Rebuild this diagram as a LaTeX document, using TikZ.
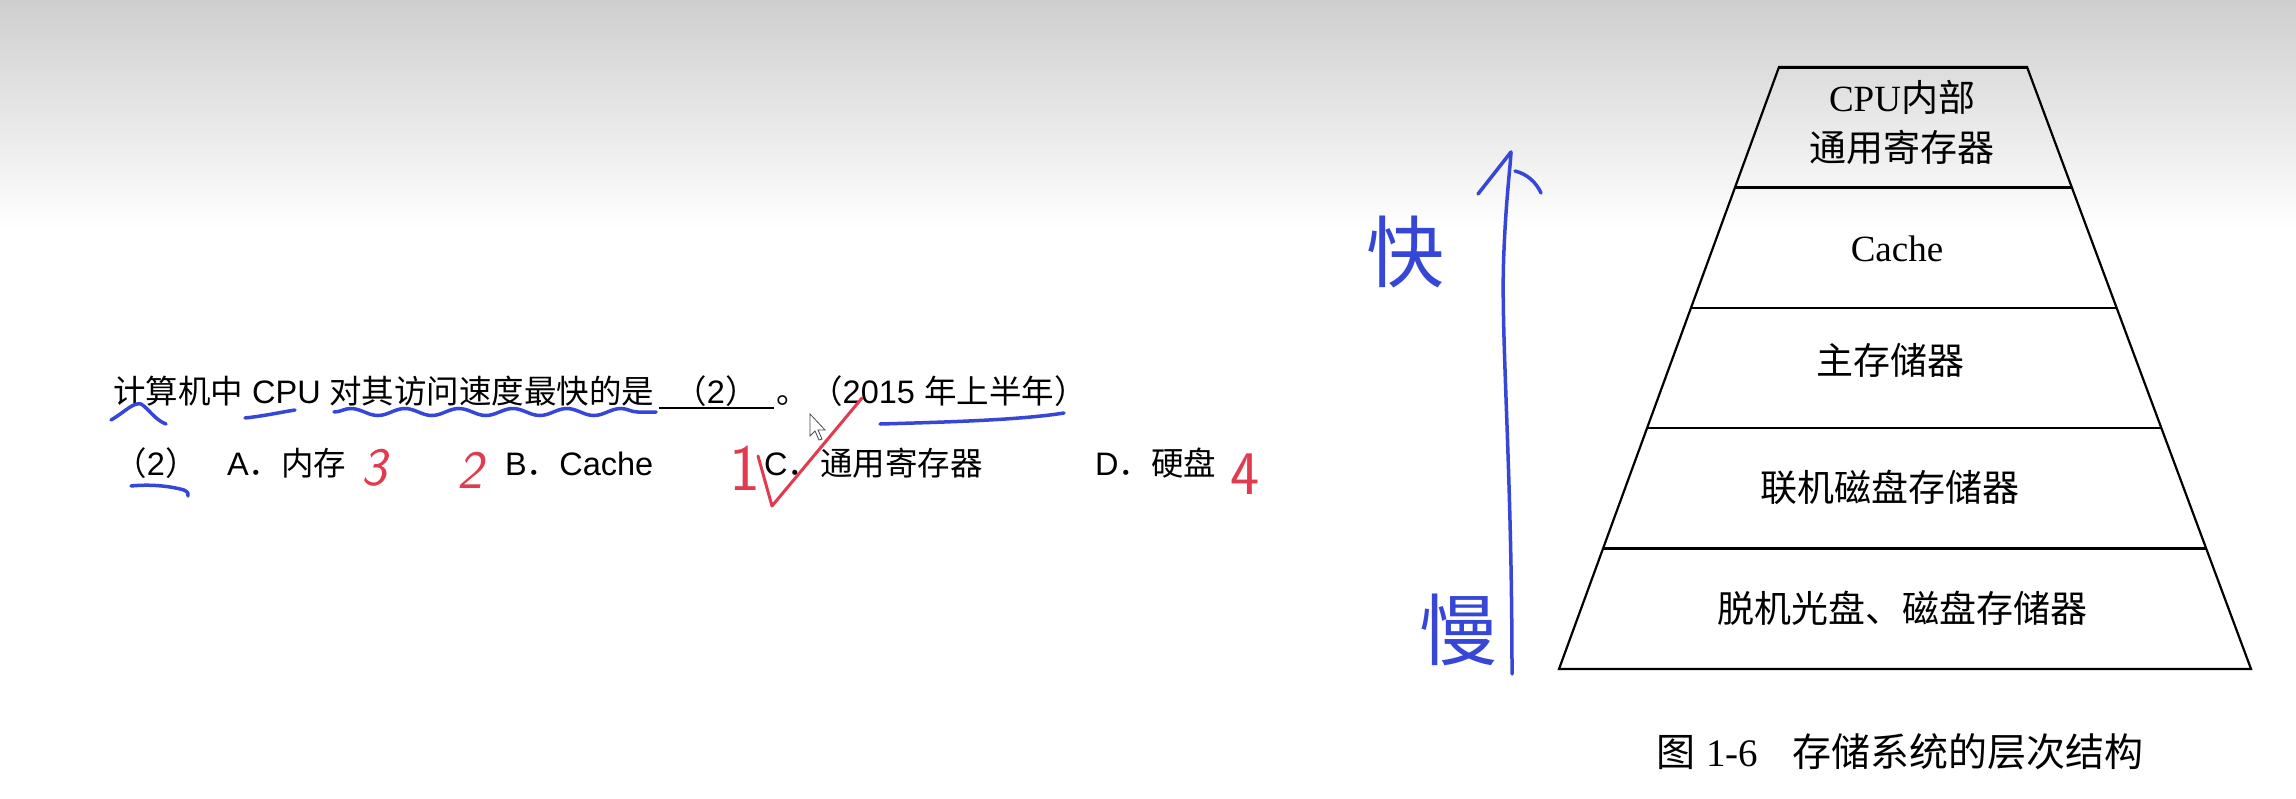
\documentclass[tikz,border=0pt]{standalone}
\usepackage{fontspec}
\setmainfont{Liberation Sans}
\newfontfamily\cjk{Noto Sans CJK SC}
\newfontfamily\serifl{Liberation Serif}
\usetikzlibrary{calc,decorations.pathmorphing}
\definecolor{penblue}{HTML}{3646D6}
\definecolor{penred}{HTML}{E23A4E}
\tikzset{
  qtext/.style={inner sep=0pt, font=\fontsize{32.5}{38}\selectfont},
  ptext/.style={inner sep=0pt, align=center, font=\fontsize{37}{50}\selectfont},
  bluepen/.style={draw=penblue, line width=3.5pt, line cap=round, line join=round},
  redpen/.style={draw=penred, line width=3pt, line cap=round, line join=round},
  bluechar/.style={inner sep=0pt, text=penblue, font=\fontsize{78}{80}\selectfont\cjk},
  redchar/.style={inner sep=0pt, text=penred, font=\fontsize{54}{54}\selectfont\sffamily\itshape},
  level/.style={draw=black, line width=2.4pt}
}
\begin{document}
\begin{tikzpicture}[x=1pt,y=-1pt]
\useasboundingbox (0,0) rectangle (2296,798);
\fill[white] (0,0) rectangle (2296,798);
\shade[top color=black!19,bottom color=white] (0,0) rectangle (2296,230);

% ---------------- question ----------------
\node[qtext, anchor=base west] (q1a) at (113,403) {\cjk 计算机中};
\node[qtext, anchor=base west] (q1b) at (252,403) {CPU};
\node[qtext, anchor=base west] (q1c) at (329,403) {\cjk 对其访问速度最快的是};
\node[qtext, anchor=base] (q1d) at (716,403) {\cjk （\normalfont 2\cjk ）};
\coordinate (ulA) at (659,408);
\coordinate (ulB) at (774,408);
\draw[line width=2.2pt] (ulA) -- (ulB);
\node[qtext, anchor=base west] (q1e) at (776,403) {\cjk 。};
\node[qtext, anchor=base west] (q1f) at (810,403) {{\cjk （}2015 {\cjk 年上半年）}};

\node[qtext, anchor=base] (q2a) at (156,475) {\cjk （\normalfont 2\cjk ）};
\node[qtext, anchor=base west] (optA) at (227,475) {A{\cjk ．内存}};
\node[qtext, anchor=base west] (optB) at (505,475) {B{\cjk ．}Cache};
\node[qtext, anchor=base west] (optC) at (764,475) {C{\cjk ．通用寄存器}};
\node[qtext, anchor=base west] (optD) at (1095,475) {D{\cjk ．硬盘}};

% blue underlines
\draw[bluepen] (111,420) .. controls (125,412) and (133,402) .. (141,404) .. controls (148,408) and (155,420) .. (166,424);
\draw[bluepen] (245,418) .. controls (264,416) and (282,412) .. (295,410);
\draw[bluepen, decorate, decoration={snake, amplitude=3.5pt, segment length=54pt}] (334,412) -- (656,412);
\draw[bluepen] (880,424) .. controls (950,422) and (1020,420) .. (1064,413);
\draw[bluepen] (131,486) .. controls (150,484) and (170,486) .. (184,490) .. controls (188,492) and (189,494) .. (188,496);

% red marks
\node[redchar] (r3) at (374,468) {3};
\node[redchar] (r2) at (470,470) {2};
\node[redchar, font=\fontsize{66}{66}\selectfont\sffamily] (r1) at (745,468) {1};
\coordinate (ck1) at (758,456);
\coordinate (ck2) at (772,506);
\coordinate (ck3) at (862,398);
\draw[redpen] (ck1) -- (ck2) -- (ck3);
\node[redchar, font=\fontsize{62}{62}\selectfont\sffamily] (r4) at (1245,474) {4};

% cursor
\draw[black!70, fill=white, line width=0.8pt] (810,414) -- (810,436) -- (815,431) -- (819,440) -- (822,439) -- (818,430) -- (825,430) -- cycle;

% ---------------- blue arrow and words ----------------
\coordinate (arB) at (1512,674);
\coordinate (arT) at (1511,152);
\coordinate (wL) at (1478,194);
\coordinate (wR) at (1541,193);
\draw[bluepen] (arB) .. controls (1512,460) and (1500,330) .. (1504,250) .. controls (1506,200) and (1510,170) .. (arT);
\draw[bluepen] (arT) -- (wL);
\draw[bluepen] (1515,171) .. controls (1527,174) and (1536,182) .. (wR);
\node[bluechar] (fast) at (1405,252) {快};
\node[bluechar] (slow) at (1458,630) {慢};

% ---------------- pyramid ----------------
\coordinate (TL) at (1779,67);
\coordinate (TR) at (2027,67);
\coordinate (BL) at (1559,669);
\coordinate (BR) at (2251,669);
\draw[line width=2.2pt, line join=miter] (TL) -- (TR) -- (BR) -- (BL) -- cycle;
\draw[line width=3pt] (TL) -- (TR);
\foreach \t in {0.2,0.4,0.6,0.8}{
  \draw[level] ($(TL)!\t!(BL)$) -- ($(TR)!\t!(BR)$);
}
\node[ptext] (lv1) at (1902,122) {\serifl CPU\cjk 内部\\\cjk 通用寄存器};
\node[ptext] (lv2) at (1897,249) {\serifl Cache};
\node[ptext] (lv3) at (1890,360) {\cjk 主存储器};
\node[ptext] (lv4) at (1890,487) {\cjk 联机磁盘存储器};
\node[ptext] (lv5) at (1902,608) {\cjk 脱机光盘、磁盘存储器};

\node[ptext, anchor=base, font=\fontsize{39}{50}\selectfont] (cap) at (1900,766) {{\cjk 图} {\serifl 1-6}\hspace{34pt}{\cjk 存储系统的层次结构}};
\end{tikzpicture}
\end{document}
